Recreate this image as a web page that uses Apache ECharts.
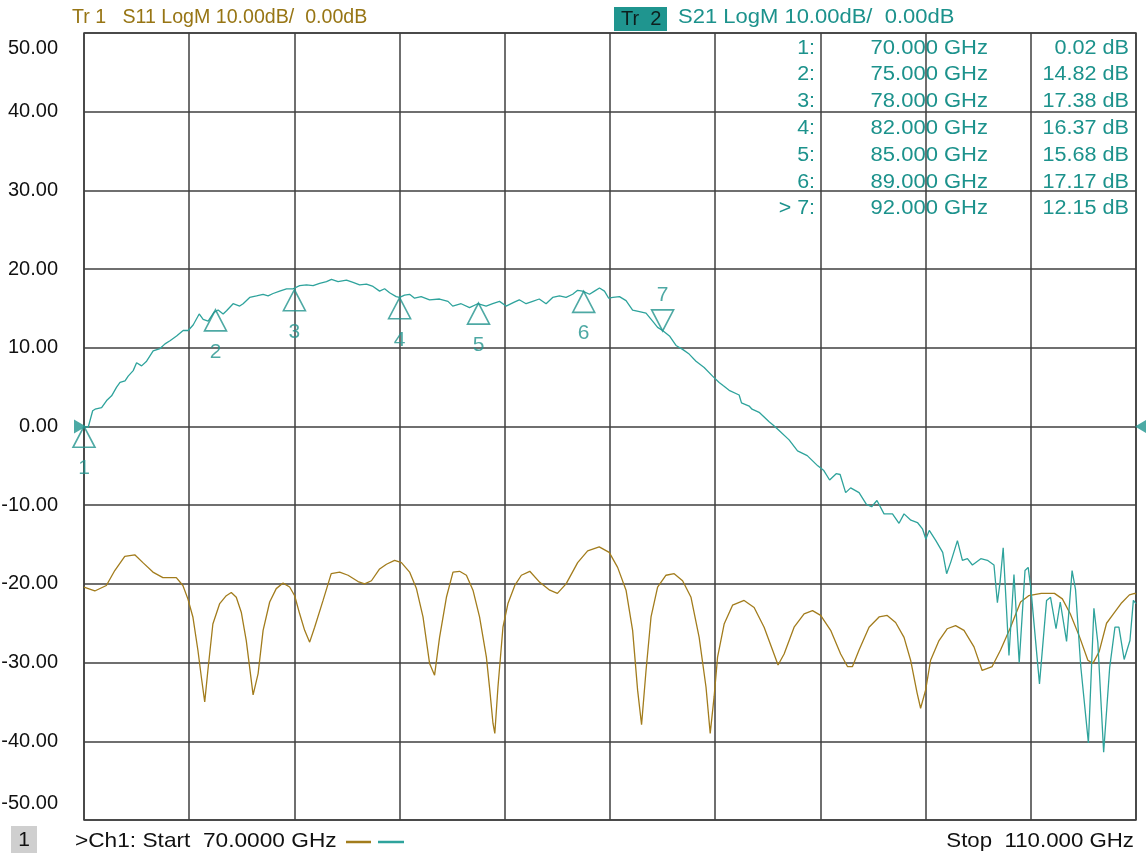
<!DOCTYPE html>
<html><head><meta charset="utf-8">
<script src="https://cdn.jsdelivr.net/npm/echarts@6/dist/echarts.min.js"></script>
<style>html,body{margin:0;padding:0;background:#fff}#c{width:1146px;height:858px}</style>
</head><body><div id="c"></div>
<script>
// ---- data ----
const traceTitles = ['Tr 1   S11 LogM 10.00dB/  0.00dB', 'S21 LogM 10.00dB/  0.00dB'];
const startLabel = '>Ch1: Start  70.0000 GHz';
const stopLabel = 'Stop  110.000 GHz';
const xStart = 70, xStop = 110;

const s11 = [
[70.0,-20.4],[70.41,-20.9],[70.85,-20.2],[71.17,-18.3],[71.55,-16.5],[71.93,-16.3],[72.24,-17.3],[72.62,-18.5],
[73.0,-19.2],[73.51,-19.2],[73.76,-20.2],[73.95,-21.9],[74.14,-24.2],[74.33,-28.4],[74.46,-31.8],[74.59,-35.0],
[74.71,-31.0],[74.9,-25.1],[75.16,-22.5],[75.41,-21.5],[75.6,-21.1],[75.79,-21.7],[75.98,-23.6],[76.17,-27.2],
[76.43,-34.1],[76.62,-31.4],[76.81,-25.9],[77.06,-22.3],[77.31,-20.6],[77.57,-19.9],[77.82,-20.4],[78.01,-21.5],
[78.2,-23.8],[78.39,-25.9],[78.58,-27.4],[78.77,-25.5],[79.09,-22.1],[79.4,-18.7],[79.72,-18.5],[80.04,-18.9],
[80.42,-19.7],[80.67,-20.0],[80.93,-19.6],[81.24,-18.1],[81.5,-17.5],[81.81,-17.0],[82.07,-17.3],[82.38,-18.5],
[82.64,-20.6],[82.89,-24.2],[83.14,-30.1],[83.33,-31.6],[83.52,-26.8],[83.78,-21.7],[84.03,-18.5],[84.28,-18.4],
[84.54,-18.9],[84.79,-20.8],[85.04,-24.2],[85.3,-29.3],[85.43,-33.5],[85.55,-37.7],[85.62,-39.0],[85.74,-33.1],
[85.93,-25.5],[86.12,-22.5],[86.38,-20.2],[86.63,-18.9],[86.95,-18.4],[87.33,-19.8],[87.71,-20.8],[88.0,-21.2],
[88.33,-20.0],[88.77,-17.3],[89.15,-15.8],[89.59,-15.3],[89.97,-16.0],[90.29,-17.9],[90.61,-20.8],[90.86,-25.9],
[91.05,-33.5],[91.2,-37.9],[91.37,-31.0],[91.56,-24.2],[91.81,-20.4],[92.13,-18.9],[92.44,-18.7],[92.76,-19.6],
[93.08,-21.7],[93.39,-26.8],[93.65,-33.1],[93.81,-39.0],[93.96,-34.3],[94.09,-29.3],[94.34,-25.1],[94.66,-22.7],
[95.1,-22.1],[95.48,-23.0],[95.86,-25.5],[96.18,-28.4],[96.39,-30.3],[96.62,-28.9],[97.0,-25.5],[97.38,-23.8],
[97.7,-23.4],[98.01,-24.0],[98.39,-25.9],[98.77,-28.9],[99.03,-30.5],[99.22,-30.5],[99.47,-28.4],[99.85,-25.5],
[100.23,-24.2],[100.54,-24.0],[100.86,-24.9],[101.18,-26.8],[101.43,-29.7],[101.68,-33.9],[101.81,-35.8],[102.0,-33.5],
[102.19,-29.7],[102.51,-27.2],[102.82,-25.7],[103.14,-25.3],[103.46,-25.9],[103.84,-28.0],[104.15,-31.0],[104.53,-30.5],
[104.85,-28.4],[105.23,-25.5],[105.61,-22.3],[105.92,-21.5],[106.4,-21.2],[106.9,-21.2],[107.2,-21.9],[107.5,-23.8],
[107.85,-26.7],[108.17,-29.7],[108.36,-30.1],[108.6,-28.6],[108.88,-25.0],[109.1,-24.0],[109.43,-22.5],[109.75,-21.4],
[109.95,-21.2],[110.0,-21.3]
];

const s21 = [
[70.0,0.02],[70.16,-0.1],[70.33,2.0],[70.42,2.2],[70.67,2.4],[70.86,3.3],[71.05,3.9],[71.24,5.0],[71.37,5.6],
[71.56,5.8],[71.68,6.4],[71.87,7.1],[72.0,8.1],[72.19,7.7],[72.38,8.3],[72.63,9.6],[72.89,9.9],[73.08,10.5],
[73.27,10.9],[73.52,11.5],[73.77,12.2],[73.96,12.2],[74.15,12.9],[74.38,14.3],[74.53,13.6],[74.72,13.4],[74.94,14.5],
[75.1,14.8],[75.29,14.3],[75.42,14.7],[75.67,15.6],[75.92,15.3],[76.05,15.6],[76.3,16.4],[76.56,16.6],[76.81,16.8],
[77.0,16.6],[77.19,16.9],[77.44,17.2],[77.7,17.5],[77.95,17.5],[78.2,17.9],[78.46,18.0],[78.71,17.9],[78.96,18.2],
[79.22,18.4],[79.41,18.7],[79.66,18.4],[79.98,18.6],[80.23,18.3],[80.48,18.0],[80.74,18.1],[80.99,17.8],[81.24,17.2],
[81.43,17.5],[81.62,17.0],[81.87,16.5],[82.0,16.4],[82.19,16.7],[82.38,16.8],[82.57,16.3],[82.82,16.5],[83.14,16.1],
[83.52,16.2],[83.84,15.9],[84.02,15.3],[84.34,15.6],[84.66,15.1],[84.97,15.6],[85.29,15.3],[85.54,15.6],[85.8,15.9],
[86.05,15.3],[86.36,15.8],[86.55,16.1],[86.81,15.6],[87.06,15.9],[87.31,16.2],[87.57,15.6],[87.82,16.4],[88.08,16.6],
[88.33,16.4],[88.58,16.8],[88.77,17.3],[88.96,17.2],[89.22,16.8],[89.41,17.2],[89.6,17.6],[89.79,17.2],[89.95,16.3],
[90.11,16.4],[90.36,16.5],[90.61,16.0],[90.86,14.8],[91.12,14.6],[91.37,14.4],[91.62,13.4],[91.81,12.6],[92.0,12.2],
[92.26,11.5],[92.51,10.3],[92.76,9.8],[93.01,9.2],[93.27,8.3],[93.58,7.5],[93.9,6.4],[94.15,5.6],[94.3,5.2],
[94.53,4.6],[94.91,4.0],[95.0,3.0],[95.29,2.6],[95.4,2.2],[95.67,1.8],[95.8,1.4],[96.05,0.6],[96.2,0.2],[96.43,-0.5],
[96.81,-1.7],[97.13,-3.1],[97.2,-3.3],[97.5,-3.7],[97.9,-5.0],[98.13,-5.6],[98.35,-6.8],[98.6,-6.0],[98.75,-6.1],
[98.96,-8.4],[99.15,-7.8],[99.47,-8.4],[99.75,-9.9],[99.95,-10.2],[100.15,-9.4],[100.42,-11.1],[100.74,-11.1],
[100.99,-12.3],[101.18,-11.1],[101.44,-11.9],[101.69,-12.2],[101.88,-13.0],[102.01,-14.3],[102.14,-13.2],[102.39,-14.5],
[102.65,-16.0],[102.8,-18.7],[102.96,-17.2],[103.21,-14.5],[103.4,-17.0],[103.59,-16.8],[103.78,-17.6],[104.1,-16.8],
[104.35,-17.0],[104.6,-17.6],[104.73,-22.4],[104.83,-19.8],[104.95,-15.4],[105.17,-29.1],[105.36,-18.8],[105.56,-30.0],
[105.78,-18.3],[105.9,-17.9],[106.0,-20.5],[106.33,-32.7],[106.6,-22.1],[106.75,-21.7],[106.96,-25.7],[107.12,-22.3],
[107.36,-27.3],[107.57,-18.3],[107.7,-20.7],[107.9,-30.5],[108.19,-40.2],[108.4,-23.1],[108.55,-27.5],[108.77,-41.4],
[109.0,-30.6],[109.2,-25.5],[109.35,-25.5],[109.55,-29.6],[109.77,-27.2],[109.9,-22.1],[110.0,-22.5]
];

const markerIds = ['1','2','3','4','5','6','7'];
const markerFreq = [70, 75, 78, 82, 85, 89, 92];
const markerVal = [0.02, 14.82, 17.38, 16.37, 15.68, 17.17, 12.15];
const activeMarker = 6;
const refLevel = 0;

// ---- styles ----
const GOLD = '#a27c1c', GOLD_TXT = '#977514';
const TEAL = '#2ea39c', TEAL_TXT = '#1c928c', TEAL_MK = '#22938d';
const GRID = '#3f3f3f';
const FONT = '"Liberation Sans", Arial, sans-serif';

const upTri = 'path://M11,0 L22,21 L0,21 Z';
const downTri = 'path://M0,0 L22,0 L11,21 Z';

const chart = echarts.init(document.getElementById('c'), null, {renderer: 'canvas'});

const markerData = markerFreq.map((f, i) => {
  const act = i === activeMarker;
  return {
    value: [f, markerVal[i]],
    name: markerIds[i],
    symbol: act ? downTri : upTri,
    symbolOffset: act ? [0, -10.5] : [0, 10.5],
    label: {position: act ? 'top' : 'bottom', distance: act ? 3 : 10}
  };
});

const graphics = [];
graphics.push({type: 'text', x: 72, y: 17, style: {text: traceTitles[0], fill: GOLD_TXT, font: '20px ' + FONT, verticalAlign: 'middle'}, scaleX: 0.98});
graphics.push({type: 'rect', shape: {x: 614, y: 7, width: 53, height: 24}, style: {fill: '#1f958f'}});
graphics.push({type: 'text', x: 621, y: 19, style: {text: 'Tr  2', fill: '#0d1f1e', font: '20px ' + FONT, verticalAlign: 'middle'}});
graphics.push({type: 'text', x: 678, y: 17, style: {text: traceTitles[1], fill: TEAL_TXT, font: '20px ' + FONT, verticalAlign: 'middle'}, scaleX: 1.1});
markerFreq.forEach((f, i) => {
  const y = 48 + i * 26.8;
  const lab = (i === activeMarker ? '> ' : '') + markerIds[i] + ':';
  const st = {fill: TEAL_TXT, font: '20px ' + FONT, align: 'right', verticalAlign: 'middle'};
  graphics.push({type: 'text', x: 815, y: y, style: Object.assign({text: lab}, st), scaleX: 1.07, z: 10});
  graphics.push({type: 'text', x: 988, y: y, style: Object.assign({text: f.toFixed(3) + ' GHz'}, st), scaleX: 1.1, z: 10});
  graphics.push({type: 'text', x: 1129, y: y, style: Object.assign({text: markerVal[i].toFixed(2) + ' dB'}, st), scaleX: 1.08, z: 10});
});
graphics.push({type: 'rect', shape: {x: 11, y: 826, width: 26, height: 27}, style: {fill: '#cfcfcf'}});
graphics.push({type: 'text', x: 24, y: 840, style: {text: '1', fill: '#111', font: '21px ' + FONT, align: 'center', verticalAlign: 'middle'}});
graphics.push({type: 'text', x: 75, y: 841, style: {text: startLabel, fill: '#111', font: '21px ' + FONT, verticalAlign: 'middle'}, scaleX: 1.08});
graphics.push({type: 'line', shape: {x1: 346, y1: 842, x2: 371, y2: 842}, style: {stroke: GOLD, lineWidth: 2.5}});
graphics.push({type: 'line', shape: {x1: 378, y1: 842, x2: 404, y2: 842}, style: {stroke: TEAL, lineWidth: 2.5}});
graphics.push({type: 'text', x: 1134, y: 841, style: {text: stopLabel, fill: '#111', font: '21px ' + FONT, align: 'right', verticalAlign: 'middle'}, scaleX: 1.06});

const labelFont = {fontSize: 20, fontFamily: FONT, color: '#111'};

chart.setOption({
  animation: false,
  backgroundColor: '#fff',
  grid: {left: 84, right: 10, top: 33, bottom: 38, show: true, containLabel: false, outerBoundsMode: 'none',
         borderColor: GRID, borderWidth: 1.5, backgroundColor: 'transparent'},
  xAxis: {
    type: 'value', min: xStart, max: xStop, interval: 4,
    axisLine: {show: false}, axisTick: {show: false}, axisLabel: {show: false},
    splitLine: {show: true, lineStyle: {color: GRID, width: 1.5}}
  },
  yAxis: {
    type: 'value', min: -50, max: 50, interval: 10,
    axisLine: {show: false}, axisTick: {show: false},
    axisLabel: Object.assign({
      formatter: v => v === 50 ? '{t|' + v.toFixed(2) + '}' : (v === -50 ? '{b|' + v.toFixed(2) + '}' : v.toFixed(2)),
      margin: 26,
      verticalAlignMaxLabel: 'top', verticalAlignMinLabel: 'bottom',
      rich: {
        t: Object.assign({padding: [5, 0, 0, 0]}, labelFont),
        b: Object.assign({padding: [0, 0, 7, 0]}, labelFont)
      }
    }, labelFont),
    splitLine: {show: true, lineStyle: {color: GRID, width: 1.5}}
  },
  graphic: graphics,
  series: [
    {name: 'S11', type: 'line', data: s11, symbol: 'none', lineStyle: {color: GOLD, width: 1.3}, itemStyle: {color: GOLD}, z: 3},
    {name: 'S21', type: 'line', data: s21, symbol: 'none', lineStyle: {color: TEAL, width: 1.3}, itemStyle: {color: TEAL}, z: 4},
    {
      name: 'markers', type: 'scatter', data: markerData, symbolSize: [22, 21], clip: false,
      itemStyle: {color: 'rgba(0,0,0,0)', borderColor: TEAL_MK, borderWidth: 1.6},
      label: {show: true, formatter: p => p.name, color: TEAL_MK, fontSize: 21, fontFamily: FONT},
      z: 5
    },
    {
      name: 'ref', type: 'scatter', clip: false, symbolSize: [12, 14],
      data: [
        {value: [xStart, refLevel], symbol: 'path://M0,0 L12,7 L0,14 Z', symbolOffset: [-4, 0]},
        {value: [xStop, refLevel], symbol: 'path://M12,0 L0,7 L12,14 Z', symbolOffset: [5, 0]}
      ],
      itemStyle: {color: '#1f958f'}, z: 6
    }
  ]
});
</script></body></html>
